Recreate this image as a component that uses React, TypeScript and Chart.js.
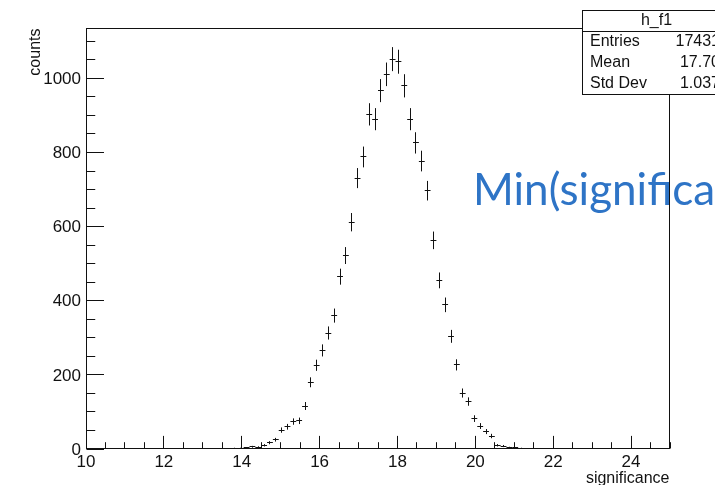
import React, { useEffect, useRef } from "react";
import { Chart, registerables } from "chart.js";

Chart.register(...registerables);

// Histogram binning: 100 bins of width 0.15 on [10, 25]
const binLow = 10;
const binWidth = 0.15;
const xMin = 10;
const xMax = 25;
const yMax = 1136;

// Bin contents of h_f1
const counts = [
  0, 0, 0, 0, 0, 0, 0, 0, 0, 0,
  0, 0, 0, 0, 0, 0, 0, 0, 0, 0,
  0, 0, 0, 1, 0, 2, 2, 3, 6, 5,
  10, 17, 25, 51, 60, 74, 76, 116, 180, 226,
  266, 313, 360, 465, 522, 612, 731, 788, 903, 890,
  967, 1011, 1052, 1045, 980, 890, 826, 777, 697, 563,
  455, 389, 304, 227, 151, 128, 82, 62, 47, 35,
  10, 8, 4, 3, 2, 0, 1, 1, 0, 0,
  0, 0, 0, 0, 0, 0, 0, 0, 0, 0,
  0, 0, 0, 0, 0, 0, 0, 0, 0, 0,
];

const xTickLabels = [10, 12, 14, 16, 18, 20, 22, 24];
const yTickLabels = [0, 200, 400, 600, 800, 1000];
const xMinorStep = 0.5;
const yMinorStep = 50;

const xTitle = "significance";
const yTitle = "counts";

const statsTitle = "h_f1";
const statsNames = ["Entries", "Mean", "Std Dev"];
const statsValues = ["17431", "17.70", "1.037"];

const noteText = "Min(significance)";

const INK = "#111";
const NOTE_BLUE = "#2E74C6";
const FONT = '"Liberation Sans", Arial, Helvetica, sans-serif';

const rootStylePlugin = {
  id: "rootStyle",
  afterDatasetsDraw(chart: any) {
    const { ctx } = chart;
    const xs = chart.scales.x;
    const ys = chart.scales.y;
    const meta = chart.getDatasetMeta(0);
    ctx.save();
    ctx.strokeStyle = INK;
    ctx.lineWidth = 1;
    ctx.beginPath();
    meta.data.forEach((pt: any, k: number) => {
      const raw = chart.data.datasets[0].data[k] as any;
      const c = raw.y;
      const err = Math.sqrt(c);
      const xl = xs.getPixelForValue(raw.x - binWidth / 2);
      const xr = xs.getPixelForValue(raw.x + binWidth / 2);
      const xc = Math.round(pt.x - 0.5) + 0.5;
      const yc = Math.round(pt.y - 0.5) + 0.5;
      const yt = ys.getPixelForValue(c + err);
      const yb = ys.getPixelForValue(Math.max(0, c - err));
      ctx.moveTo(xl, yc);
      ctx.lineTo(xr, yc);
      ctx.moveTo(xc, yt);
      ctx.lineTo(xc, yb);
    });
    ctx.stroke();
    ctx.restore();
  },
  afterDraw(chart: any) {
    const { ctx, chartArea } = chart;
    const xs = chart.scales.x;
    const ys = chart.scales.y;
    const left = Math.round(chartArea.left) + 0.5;
    const right = Math.round(chartArea.right) - 0.5;
    const top = Math.round(chartArea.top) + 0.5;
    const bottom = Math.round(chartArea.bottom) - 0.5;
    const frameW = right - left;
    const frameH = bottom - top;

    ctx.save();

    // text box placed over the pad
    ctx.fillStyle = NOTE_BLUE;
    ctx.font = '44px Lato, "Open Sans", sans-serif';
    ctx.textAlign = "left";
    ctx.textBaseline = "alphabetic";
    ctx.fillText(noteText, 473, 205);

    // frame
    ctx.strokeStyle = INK;
    ctx.lineWidth = 1;
    ctx.strokeRect(left, top, frameW, frameH);

    // x-axis ticks (pointing into the frame)
    const xMajorLen = 0.03 * frameH;
    const xMinorLen = xMajorLen / 2;
    ctx.beginPath();
    for (let v = xMin; v <= xMax + 1e-9; v += xMinorStep) {
      const major = xTickLabels.includes(Math.round(v * 100) / 100);
      const px = Math.round(xs.getPixelForValue(v) - 0.5) + 0.5;
      ctx.moveTo(px, bottom);
      ctx.lineTo(px, bottom - (major ? xMajorLen : xMinorLen));
    }
    // y-axis ticks
    const yMajorLen = 0.03 * frameW;
    const yMinorLen = yMajorLen / 2;
    for (let v = 0; v <= yMax; v += yMinorStep) {
      const major = yTickLabels.includes(v);
      const py = Math.round(ys.getPixelForValue(v) - 0.5) + 0.5;
      ctx.moveTo(left, py);
      ctx.lineTo(left + (major ? yMajorLen : yMinorLen), py);
    }
    ctx.stroke();

    // tick labels
    ctx.fillStyle = INK;
    ctx.font = `17px ${FONT}`;
    ctx.textAlign = "center";
    ctx.textBaseline = "middle";
    xTickLabels.forEach((v) => {
      ctx.fillText(String(v), xs.getPixelForValue(v), 462);
    });
    ctx.textAlign = "right";
    yTickLabels.forEach((v) => {
      ctx.fillText(String(v), 81, ys.getPixelForValue(v) + 1);
    });

    // axis titles
    ctx.font = `16px ${FONT}`;
    ctx.textAlign = "right";
    ctx.fillText(xTitle, right, 479);
    ctx.save();
    ctx.translate(36, top);
    ctx.rotate(-Math.PI / 2);
    ctx.textAlign = "right";
    ctx.textBaseline = "middle";
    ctx.fillText(yTitle, 0, 0);
    ctx.restore();

    // statistics box
    const bx = 582.5;
    const by = 10.5;
    const bw = 148;
    const bh = 84;
    ctx.fillStyle = "#fff";
    ctx.fillRect(bx, by, bw, bh);
    ctx.strokeStyle = INK;
    ctx.strokeRect(bx, by, bw, bh);
    ctx.beginPath();
    ctx.moveTo(bx, 31.5);
    ctx.lineTo(bx + bw, 31.5);
    ctx.stroke();
    ctx.fillStyle = INK;
    ctx.font = `16px ${FONT}`;
    ctx.textAlign = "center";
    ctx.textBaseline = "middle";
    ctx.fillText(statsTitle, bx + bw / 2, 21);
    statsNames.forEach((name, k) => {
      const y = 42 + k * 20.7;
      ctx.textAlign = "left";
      ctx.fillText(name, 590, y);
      ctx.textAlign = "right";
      ctx.fillText(statsValues[k], 720, y);
    });

    ctx.restore();
  },
};

export default function App() {
  const canvasRef = useRef<HTMLCanvasElement | null>(null);

  useEffect(() => {
    document.body.style.margin = "0";
    const canvas = canvasRef.current;
    if (!canvas) return;
    const points = counts
      .map((c, i) => ({ x: binLow + (i + 0.5) * binWidth, y: c }))
      .filter((p) => p.y > 0);
    const chart = new Chart(canvas, {
      type: "scatter",
      data: {
        datasets: [
          {
            label: statsTitle,
            data: points,
            pointRadius: 0,
            pointHoverRadius: 0,
            showLine: false,
          },
        ],
      },
      options: {
        responsive: false,
        animation: false,
        devicePixelRatio: 1,
        layout: { padding: { left: 86, right: 45, top: 28, bottom: 36 } },
        scales: {
          x: { type: "linear", min: xMin, max: xMax, display: false },
          y: { type: "linear", min: 0, max: yMax, display: false },
        },
        plugins: {
          legend: { display: false },
          tooltip: { enabled: false },
        },
      },
      plugins: [rootStylePlugin],
    });
    return () => chart.destroy();
  }, []);

  return (
    <div style={{ width: 715, height: 485, background: "#fff" }}>
      <canvas ref={canvasRef} width={715} height={485} />
    </div>
  );
}
